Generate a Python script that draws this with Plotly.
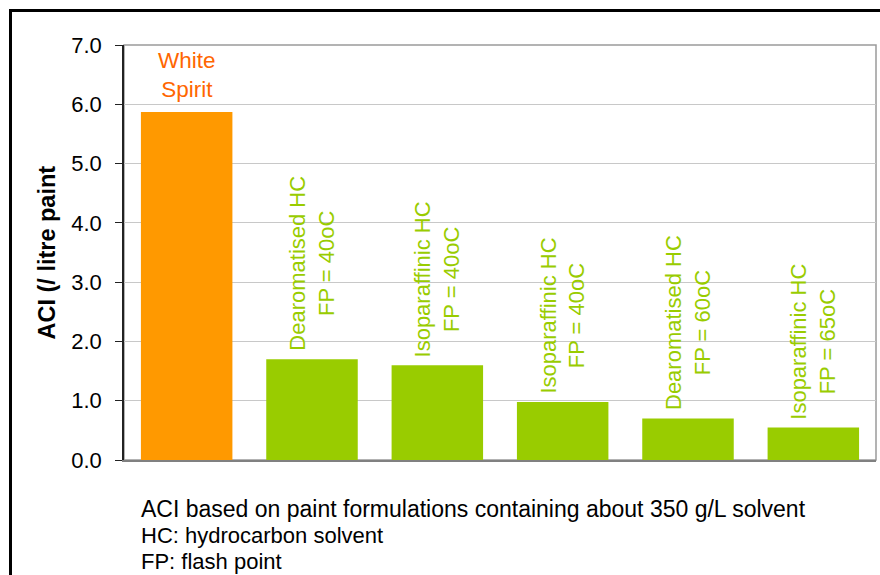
import plotly.graph_objects as go

# ---- data ----
solvents = ["White Spirit", "Dearomatised HC", "Isoparaffinic HC",
            "Isoparaffinic HC", "Dearomatised HC", "Isoparaffinic HC"]
flash_points = ["", "FP = 40oC", "FP = 40oC", "FP = 40oC", "FP = 60oC", "FP = 65oC"]
aci_values = [5.87, 1.70, 1.60, 0.98, 0.70, 0.55]
bar_colors = ["#FF9900", "#99CC00", "#99CC00", "#99CC00", "#99CC00", "#99CC00"]
y_ticks = [0, 1, 2, 3, 4, 5, 6, 7]
y_title = "ACI (/ litre paint"
footnotes = ["ACI based on paint formulations containing about 350 g/L solvent",
             "HC: hydrocarbon solvent",
             "FP: flash point"]

FONT = "Liberation Sans, Arial, sans-serif"
W, H = 880, 575
ML, MR, MT, MB = 124, 4, 45, 115
PW, PH = W - ML - MR, H - MT - MB

def px_x(px):
    return (px - ML) / PW

def px_y(py):
    return (H - MB - py) / PH

xs = list(range(len(aci_values)))

fig = go.Figure()
fig.add_trace(go.Bar(x=xs, y=aci_values, marker=dict(color=bar_colors, line=dict(width=0)),
                     width=0.73, hoverinfo="y"))

annotations = []
for i, (s, fp, v) in enumerate(zip(solvents, flash_points, aci_values)):
    if fp == "":
        annotations.append(dict(x=i, y=v, xref="x", yref="y", text="White<br>Spirit",
                                showarrow=False, yanchor="bottom", xanchor="center",
                                yshift=8, align="center",
                                font=dict(family=FONT, size=22.5, color="#FF6600")))
    else:
        annotations.append(dict(x=i, y=v, xref="x", yref="y", text=s + "<br>" + fp,
                                showarrow=False, yanchor="bottom", xanchor="center",
                                textangle=-90, yshift=6, align="center",
                                font=dict(family=FONT, size=22, color="#99CC00")))

annotations.append(dict(x=px_x(46), y=0.5, xref="paper", yref="paper", text="<b>" + y_title + "</b>",
                        showarrow=False, textangle=-90, xanchor="center", yanchor="middle",
                        font=dict(family=FONT, size=23.5, color="black")))

for k, (t, base) in enumerate(zip(footnotes, [518, 544, 570])):
    annotations.append(dict(x=px_x(139), y=px_y(base + 6), xref="paper", yref="paper", text=t,
                            showarrow=False, xanchor="left", yanchor="bottom",
                            font=dict(family=FONT, size=23 if k == 0 else 22, color="black")))

shapes = [
    # plot area border (gray)
    dict(type="rect", xref="paper", yref="paper", x0=0, y0=0, x1=1, y1=1,
         line=dict(color="#9a9a9a", width=1.5), layer="below"),
    # outer frame (black)
    dict(type="line", xref="paper", yref="paper", x0=px_x(10.5), y0=px_y(590), x1=px_x(10.5), y1=px_y(10.5),
         line=dict(color="black", width=3)),
    dict(type="line", xref="paper", yref="paper", x0=px_x(9), y0=px_y(10.5), x1=px_x(900), y1=px_y(10.5),
         line=dict(color="black", width=3)),
]

fig.update_layout(
    width=W, height=H,
    margin=dict(l=ML, r=MR, t=MT, b=MB, pad=0),
    paper_bgcolor="white", plot_bgcolor="white",
    showlegend=False,
    annotations=annotations,
    shapes=shapes,
    xaxis=dict(range=[-0.5, len(xs) - 0.5], showticklabels=False, showgrid=False,
               zeroline=False, showline=True, linecolor="#808080", linewidth=2, ticks=""),
    yaxis=dict(range=[0, 7], tickvals=y_ticks, tickformat=".1f", showgrid=True,
               gridcolor="#c8c8c8", gridwidth=1, zeroline=False,
               showline=True, linecolor="#222222", linewidth=1.5,
               ticks="outside", ticklen=7, tickcolor="#222222", tickwidth=1.2,
               ticklabelstandoff=9,
               tickfont=dict(family=FONT, size=22, color="black")),
)

fig.write_html("out.html")
